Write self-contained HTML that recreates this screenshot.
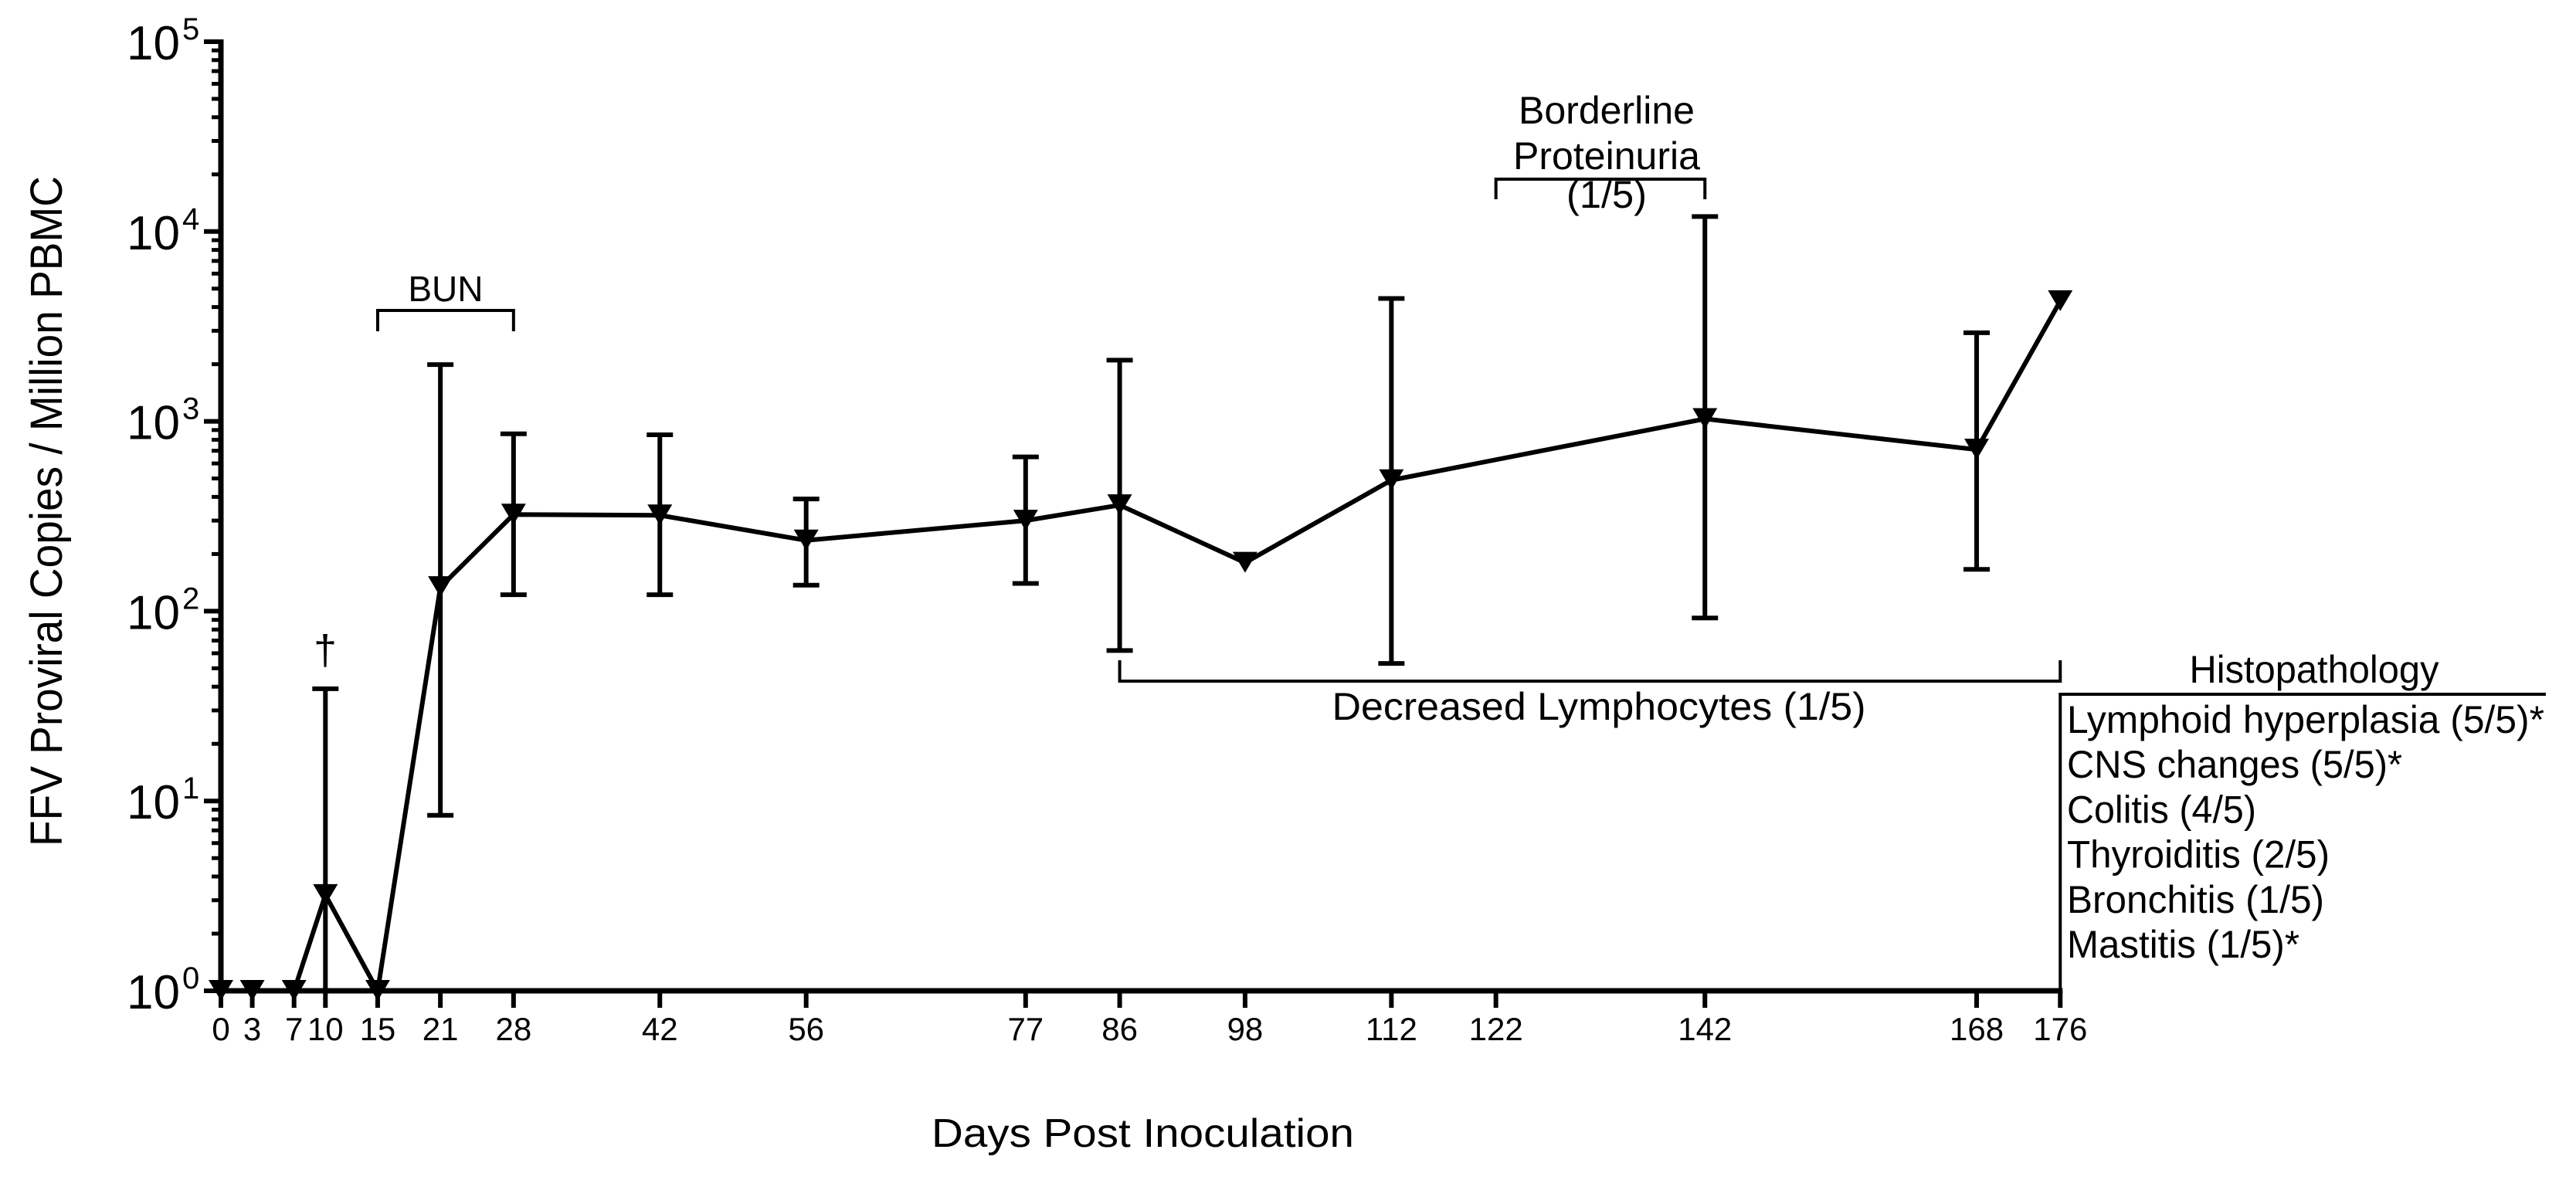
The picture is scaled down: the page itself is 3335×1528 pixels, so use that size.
<!DOCTYPE html>
<html><head><meta charset="utf-8"><style>
html,body{margin:0;padding:0;background:#fff;}
svg{display:block;font-family:"Liberation Sans",Arial,sans-serif;}
</style></head>
<body>
<svg id="chart" width="3335" height="1528" viewBox="0 0 3335 1528" xmlns="http://www.w3.org/2000/svg">
<g id="axes"></g>
<g id="series"></g>
<g id="annot">
  <text transform="translate(80,662) rotate(-90)" text-anchor="middle" font-size="58" textLength="868" lengthAdjust="spacingAndGlyphs">FFV Proviral Copies / Million PBMC</text>
  <text x="1206" y="1485" font-size="52" textLength="547" lengthAdjust="spacingAndGlyphs">Days Post Inoculation</text>
  <text x="421" y="860" text-anchor="middle" font-size="54">†</text>
</g>
</svg>
<script>
const days = [0,3,7,10,15,21,28,42,56,77,86,98,112,142,168,176];
const means = [1,1,1,3.2,1,134,323,320,236,300,362,180,490,1030,710,4300];
const upper = [null,null,null,39,null,1990,860,850,390,650,2100,null,4440,12000,2930,null];
const lower = [null,null,null,1,null,8.4,122,122,137,140,62,null,53,92,166,null];
const xTicks = [0,3,7,10,15,21,28,42,56,77,86,98,112,122,142,168,176];
const yDecades = [0,1,2,3,4,5];

const NS="http://www.w3.org/2000/svg";
const X0=286, XS=13.53, Y0=1283, DEC=245.8;
function xs(d){return X0+d*XS;}
function ys(v){return Y0-Math.log10(v)*DEC;}
function mk(tag,attrs,parent){const e=document.createElementNS(NS,tag);for(const k in attrs)e.setAttribute(k,attrs[k]);parent.appendChild(e);return e;}
const axes=document.getElementById('axes'), ser=document.getElementById('series'), ann=document.getElementById('annot');

let el=mk('line',{x1:X0,y1:ys(1e5)-3,x2:X0,y2:Y0+3,stroke:'#000','stroke-width':7},axes);


yDecades.forEach(p=>{
  const y=ys(Math.pow(10,p));
  let t=mk('line',{x1:X0-22,y1:y,x2:X0,y2:y,stroke:'#000','stroke-width':6},axes);
  
  
  if(p<5){for(let m=2;m<=9;m++){const ym=ys(m*Math.pow(10,p));
    let mt=mk('line',{x1:X0-12,y1:ym,x2:X0,y2:ym,stroke:'#000','stroke-width':5},axes);
    
    }}
  const lab=mk('text',{x:233,y:y+23,'text-anchor':'end','font-size':62},axes);
  lab.textContent='10';
  
  
  const sup=mk('text',{x:236,y:y-3,'font-size':40},axes);
  sup.textContent=String(p);
  
  
});
el=mk('line',{x1:X0-3,y1:Y0,x2:xs(176)+3,y2:Y0,stroke:'#000','stroke-width':7},axes);


xTicks.forEach(d=>{
  let t=mk('line',{x1:xs(d),y1:Y0,x2:xs(d),y2:Y0+22,stroke:'#000','stroke-width':6},axes);
  
  
  const l=mk('text',{x:xs(d),y:1347,'text-anchor':'middle','font-size':42},axes);
  l.textContent=String(d);
  
  
});
days.forEach((d,i)=>{
  if(upper[i]==null) return;
  const x=xs(d);
  let v=mk('line',{x1:x,y1:ys(upper[i]),x2:x,y2:ys(lower[i]),stroke:'#000','stroke-width':6},ser);
  
  
  let c1=mk('line',{x1:x-17,y1:ys(upper[i]),x2:x+17,y2:ys(upper[i]),stroke:'#000','stroke-width':6},ser);
  
  
  if(lower[i]>1){let c2=mk('line',{x1:x-17,y1:ys(lower[i]),x2:x+17,y2:ys(lower[i]),stroke:'#000','stroke-width':6},ser);
  
  }
});
const pts=days.map((d,i)=>xs(d)+','+ys(means[i])).join(' ');
el=mk('polyline',{points:pts,fill:'none',stroke:'#000','stroke-width':6,'stroke-linejoin':'miter'},ser);


days.forEach((d,i)=>{
  const x=xs(d), y=ys(means[i]);
  let m=mk('polygon',{points:`${x-16},${y-14} ${x+16},${y-14} ${x},${y+13}`,fill:'#000'},ser);
  
  
});
function bracket(name,x1,x2,y,ty,sw){
  const p=mk('path',{d:`M${x1},${ty} L${x1},${y} L${x2},${y} L${x2},${ty}`,fill:'none',stroke:'#000','stroke-width':sw||4},ann);
  
  
}
function txt(name,s,x,y,fs,len,anchor){
  const t=mk('text',{x:x,y:y,'font-size':fs,'text-anchor':anchor||'middle'},ann);
  if(len){t.setAttribute('textLength',len);t.setAttribute('lengthAdjust','spacingAndGlyphs');}
  t.textContent=s;
  
  
}
bracket('bun-bracket',xs(15),xs(28),402,429);
txt('bun-label','BUN',xs(21.5),390,46,null);
bracket('proteinuria-bracket',xs(122),xs(142),232,258);
txt('borderline-label','Borderline',2080,160,50,228);
txt('proteinuria-label','Proteinuria',2080,219,50,242);
txt('proteinuria-count','(1/5)',2080,269,50,104);
bracket('lymphocytes-bracket',xs(86),xs(176),882,855);
txt('lymphocytes-label','Decreased Lymphocytes (1/5)',2070,932,50,691);
el=mk('path',{d:`M${xs(176)},${Y0} L${xs(176)},899 L3296,899`,fill:'none',stroke:'#000','stroke-width':4},ann);


txt('histopathology-title','Histopathology',2996,884,50,323);
const histo=[['Lymphoid hyperplasia (5/5)*',618],['CNS changes (5/5)*',434],['Colitis (4/5)',245],['Thyroiditis (2/5)',340],['Bronchitis (1/5)',333],['Mastitis (1/5)*',301]];
histo.forEach((h,i)=>{
  const t=mk('text',{x:2676,y:949+i*58.2,'font-size':50,textLength:h[1],lengthAdjust:'spacingAndGlyphs'},ann);
  t.textContent=h[0];
  
  
});
</script>
</body></html>
